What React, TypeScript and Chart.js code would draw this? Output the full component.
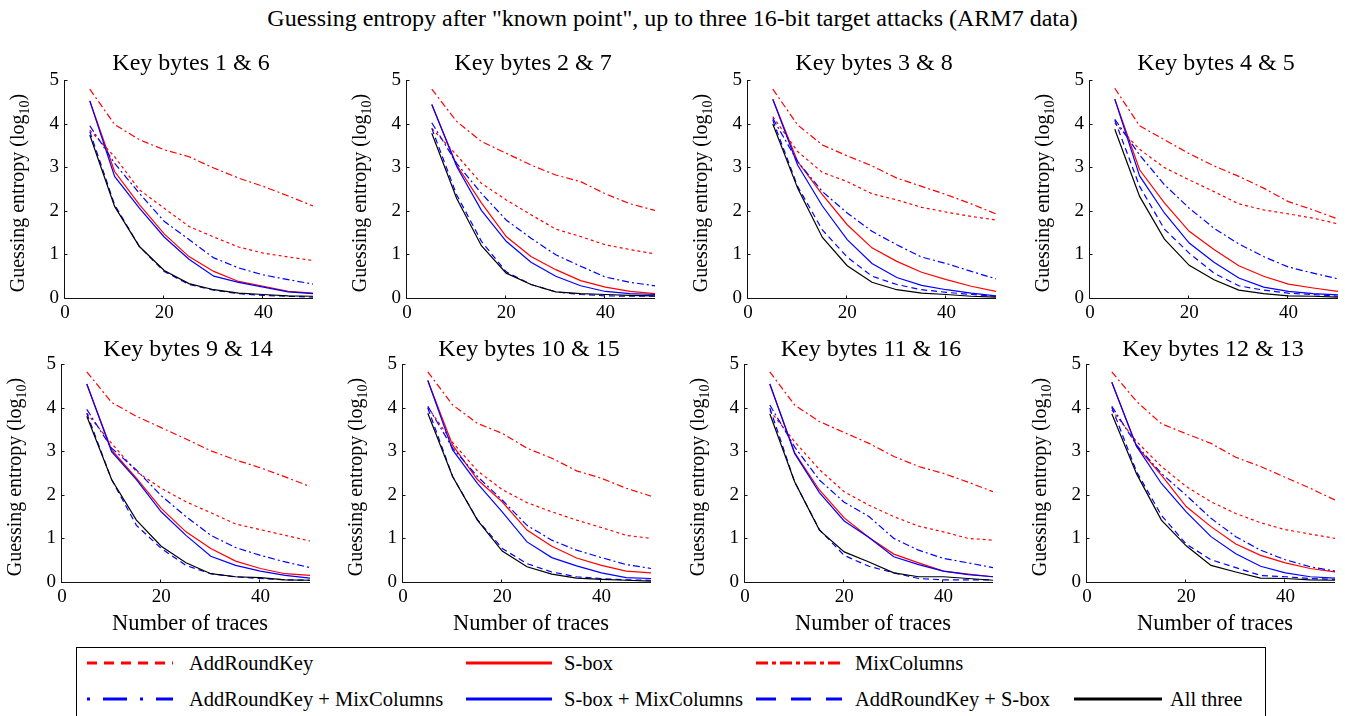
import React, { useEffect, useRef } from 'react';
import { Chart, registerables } from 'chart.js';

Chart.register(...registerables);

// ---------------- DATA ----------------
const TRACES = [5, 10, 15, 20, 25, 30, 35, 40, 45, 50];
const X_TICKS = [0, 20, 40];
const Y_TICKS = [0, 1, 2, 3, 4, 5];
const MAIN_TITLE = 'Guessing entropy after "known point", up to three 16-bit target attacks (ARM7 data)';
const PANEL_TITLES = [
  'Key bytes 1 & 6', 'Key bytes 2 & 7', 'Key bytes 3 & 8', 'Key bytes 4 & 5',
  'Key bytes 9 & 14', 'Key bytes 10 & 15', 'Key bytes 11 & 16', 'Key bytes 12 & 13',
];
const SERIES_NAMES = [
  'AddRoundKey', 'S-box', 'MixColumns',
  'AddRoundKey + MixColumns', 'S-box + MixColumns', 'AddRoundKey + S-box', 'All three',
];
const X_LABEL = 'Number of traces';
const Y_LABEL_MAIN = 'Guessing entropy (log';
const Y_LABEL_SUB = '10';
const Y_LABEL_END = ')';

// one row per panel (8 panels), one value per number of traces
const ADD_ROUND_KEY = [
  [3.85, 3.24, 2.48, 2.06, 1.64, 1.40, 1.17, 1.03, 0.94, 0.86],
  [3.89, 3.28, 2.63, 2.25, 1.91, 1.58, 1.41, 1.22, 1.11, 1.01],
  [4.16, 3.36, 2.88, 2.67, 2.39, 2.25, 2.08, 1.97, 1.87, 1.79],
  [4.01, 3.41, 2.99, 2.71, 2.44, 2.16, 2.02, 1.93, 1.83, 1.70],
  [3.87, 3.18, 2.53, 2.15, 1.84, 1.59, 1.33, 1.20, 1.07, 0.94],
  [4.01, 3.20, 2.55, 2.12, 1.82, 1.61, 1.42, 1.25, 1.07, 1.00],
  [3.93, 3.22, 2.58, 2.07, 1.76, 1.50, 1.28, 1.15, 1.00, 0.96],
  [3.95, 3.22, 2.65, 2.19, 1.84, 1.57, 1.36, 1.20, 1.10, 1.00],
];
const S_BOX = [
  [4.52, 2.90, 2.14, 1.47, 0.95, 0.61, 0.38, 0.27, 0.15, 0.11],
  [4.44, 3.05, 2.18, 1.41, 0.95, 0.65, 0.40, 0.25, 0.15, 0.10],
  [4.56, 3.13, 2.37, 1.68, 1.15, 0.84, 0.59, 0.42, 0.27, 0.15],
  [4.56, 2.94, 2.18, 1.53, 1.11, 0.74, 0.50, 0.32, 0.23, 0.15],
  [4.54, 3.03, 2.38, 1.69, 1.15, 0.77, 0.48, 0.31, 0.19, 0.15],
  [4.62, 3.14, 2.35, 1.84, 1.19, 0.82, 0.55, 0.38, 0.25, 0.21],
  [4.54, 2.97, 2.11, 1.47, 1.02, 0.64, 0.44, 0.25, 0.18, 0.12],
  [4.58, 3.11, 2.45, 1.73, 1.27, 0.87, 0.61, 0.44, 0.31, 0.23],
];
const MIX_COLUMNS = [
  [4.79, 3.98, 3.63, 3.40, 3.24, 2.98, 2.75, 2.56, 2.34, 2.11],
  [4.79, 4.05, 3.59, 3.32, 3.05, 2.82, 2.67, 2.39, 2.16, 2.01],
  [4.79, 3.97, 3.51, 3.26, 3.03, 2.75, 2.56, 2.37, 2.16, 1.93],
  [4.81, 3.95, 3.63, 3.31, 3.03, 2.79, 2.52, 2.21, 2.02, 1.81],
  [4.82, 4.12, 3.80, 3.54, 3.28, 3.01, 2.80, 2.62, 2.41, 2.19],
  [4.82, 4.06, 3.64, 3.41, 3.07, 2.84, 2.55, 2.38, 2.15, 1.97],
  [4.82, 4.06, 3.68, 3.43, 3.18, 2.88, 2.65, 2.49, 2.29, 2.07],
  [4.82, 4.14, 3.63, 3.40, 3.18, 2.86, 2.65, 2.40, 2.15, 1.88],
];
const ARK_MIX_COLUMNS = [
  [3.95, 3.09, 2.40, 1.76, 1.34, 0.92, 0.69, 0.53, 0.42, 0.32],
  [4.02, 3.09, 2.40, 1.79, 1.37, 0.99, 0.73, 0.48, 0.36, 0.28],
  [4.12, 3.13, 2.44, 1.95, 1.53, 1.22, 0.94, 0.79, 0.61, 0.44],
  [4.10, 3.28, 2.60, 2.06, 1.60, 1.24, 0.95, 0.71, 0.57, 0.44],
  [3.96, 3.07, 2.57, 1.98, 1.50, 1.07, 0.79, 0.61, 0.46, 0.33],
  [4.03, 3.07, 2.42, 1.88, 1.30, 0.96, 0.73, 0.56, 0.40, 0.31],
  [4.06, 3.10, 2.34, 1.83, 1.50, 1.00, 0.73, 0.54, 0.44, 0.33],
  [4.03, 3.14, 2.49, 1.99, 1.46, 1.04, 0.73, 0.51, 0.35, 0.25],
];
const S_BOX_MIX_COLUMNS = [
  [4.52, 2.79, 2.06, 1.40, 0.89, 0.50, 0.36, 0.25, 0.14, 0.10],
  [4.44, 3.02, 2.01, 1.30, 0.82, 0.50, 0.28, 0.15, 0.10, 0.08],
  [4.56, 3.05, 2.11, 1.34, 0.79, 0.47, 0.29, 0.19, 0.11, 0.05],
  [4.56, 2.80, 1.95, 1.26, 0.82, 0.46, 0.25, 0.15, 0.10, 0.07],
  [4.54, 2.99, 2.35, 1.61, 1.07, 0.59, 0.38, 0.25, 0.15, 0.09],
  [4.62, 3.03, 2.26, 1.61, 0.92, 0.56, 0.37, 0.21, 0.10, 0.08],
  [4.54, 2.95, 2.05, 1.40, 1.02, 0.58, 0.40, 0.25, 0.17, 0.12],
  [4.58, 3.11, 2.26, 1.61, 1.04, 0.65, 0.36, 0.21, 0.12, 0.09],
];
const ARK_S_BOX = [
  [3.82, 2.14, 1.18, 0.61, 0.31, 0.18, 0.10, 0.06, 0.04, 0.02],
  [3.89, 2.37, 1.30, 0.60, 0.31, 0.14, 0.08, 0.05, 0.04, 0.04],
  [4.08, 2.56, 1.56, 0.94, 0.50, 0.31, 0.19, 0.13, 0.08, 0.04],
  [4.08, 2.56, 1.58, 1.03, 0.57, 0.28, 0.18, 0.11, 0.08, 0.04],
  [3.87, 2.35, 1.30, 0.77, 0.38, 0.19, 0.12, 0.08, 0.05, 0.04],
  [3.99, 2.42, 1.43, 0.77, 0.42, 0.23, 0.12, 0.08, 0.05, 0.04],
  [3.99, 2.30, 1.20, 0.61, 0.36, 0.21, 0.08, 0.05, 0.05, 0.05],
  [4.01, 2.53, 1.53, 0.87, 0.51, 0.33, 0.15, 0.12, 0.08, 0.06],
];
const ALL_THREE = [
  [3.74, 2.10, 1.18, 0.63, 0.33, 0.19, 0.11, 0.08, 0.05, 0.04],
  [3.78, 2.29, 1.20, 0.57, 0.31, 0.14, 0.10, 0.08, 0.06, 0.05],
  [3.99, 2.52, 1.39, 0.74, 0.36, 0.19, 0.11, 0.08, 0.04, 0.02],
  [3.87, 2.33, 1.35, 0.75, 0.42, 0.18, 0.10, 0.05, 0.04, 0.02],
  [3.80, 2.35, 1.42, 0.82, 0.44, 0.19, 0.12, 0.10, 0.05, 0.04],
  [3.87, 2.42, 1.42, 0.71, 0.35, 0.18, 0.09, 0.06, 0.04, 0.02],
  [3.86, 2.30, 1.19, 0.69, 0.46, 0.21, 0.12, 0.12, 0.08, 0.04],
  [3.86, 2.48, 1.42, 0.83, 0.38, 0.23, 0.09, 0.08, 0.05, 0.04],
];

const SERIES_VALUES = [ADD_ROUND_KEY, S_BOX, MIX_COLUMNS, ARK_MIX_COLUMNS, S_BOX_MIX_COLUMNS, ARK_S_BOX, ALL_THREE];

// ---------------- STYLES / LAYOUT ----------------
const SERIF = "'Liberation Serif', 'Times New Roman', serif";
const SERIES_STYLE = [
  { color: '#ff0000', dash: [3, 3], legendDash: '10 7' },
  { color: '#ff0000', dash: [], legendDash: '' },
  { color: '#ff0000', dash: [7, 3, 2, 3], legendDash: '12 4 4 4' },
  { color: '#0000ff', dash: [7, 3, 2, 3], legendDash: '3 13 24 13' },
  { color: '#0000ff', dash: [], legendDash: '' },
  { color: '#0000ff', dash: [6, 4], legendDash: '20 15' },
  { color: '#000000', dash: [], legendDash: '' },
];
const PLOT_W = 248;
const PLOT_H = 218;
const PAD_L = 62;
const PAD_T = 50;
const PAD_R = 14;
const PAD_B = 62;
const PLOT_LEFTS = [65, 407, 748, 1090, 62, 403, 745, 1087];
const PLOT_TOPS = [80, 80, 80, 80, 364, 364, 364, 364];

function makeTextPlugin(idx: number) {
  const bottomRow = idx >= 4;
  return {
    id: 'panelText' + idx,
    afterDraw(chart: any) {
      const ctx = chart.ctx as CanvasRenderingContext2D;
      const a = chart.chartArea;
      const xs = chart.scales.x;
      const ys = chart.scales.y;
      ctx.save();
      // axes
      ctx.strokeStyle = '#111';
      ctx.lineWidth = 1;
      ctx.setLineDash([]);
      const ax = Math.round(a.left) - 0.5;
      const ay = Math.round(a.bottom) + 0.5;
      ctx.beginPath();
      ctx.moveTo(ax, a.top);
      ctx.lineTo(ax, ay);
      ctx.lineTo(a.right, ay);
      ctx.stroke();
      // inward tick marks
      ctx.beginPath();
      Y_TICKS.forEach((v) => {
        const y = Math.round(ys.getPixelForValue(v)) + 0.5;
        ctx.moveTo(ax, y);
        ctx.lineTo(ax + 3, y);
      });
      X_TICKS.forEach((v) => {
        const x = Math.round(xs.getPixelForValue(v)) - 0.5;
        ctx.moveTo(x, ay);
        ctx.lineTo(x, ay - 3);
      });
      ctx.stroke();
      // panel title
      ctx.fillStyle = '#000';
      ctx.font = `24px ${SERIF}`;
      ctx.textAlign = 'center';
      ctx.textBaseline = 'alphabetic';
      const cx = (a.left + a.right) / 2;
      ctx.fillText(PANEL_TITLES[idx], cx + 2, a.top - (bottomRow ? 8 : 10));
      // x label
      if (bottomRow) {
        ctx.font = `22.5px ${SERIF}`;
        ctx.fillText(X_LABEL, cx + 4, a.bottom + 48);
      }
      // y label with subscript
      ctx.translate(a.left - 41, (a.top + a.bottom) / 2 + 4);
      ctx.rotate(-Math.PI / 2);
      ctx.textAlign = 'left';
      ctx.font = `20px ${SERIF}`;
      const w1 = ctx.measureText(Y_LABEL_MAIN).width;
      const w3 = ctx.measureText(Y_LABEL_END).width;
      ctx.font = `14px ${SERIF}`;
      const w2 = ctx.measureText(Y_LABEL_SUB).width;
      const start = -(w1 + w2 + w3) / 2;
      ctx.font = `20px ${SERIF}`;
      ctx.fillText(Y_LABEL_MAIN, start, 0);
      ctx.fillText(Y_LABEL_END, start + w1 + w2, 0);
      ctx.font = `14px ${SERIF}`;
      ctx.fillText(Y_LABEL_SUB, start + w1, 5);
      ctx.restore();
    },
  };
}

function Panel({ idx }: { idx: number }) {
  const ref = useRef<HTMLCanvasElement>(null);
  useEffect(() => {
    const canvas = ref.current;
    if (!canvas) return;
    const chart = new Chart(canvas, {
      type: 'line',
      data: {
        datasets: SERIES_NAMES.map((name, i) => ({
          label: name,
          data: TRACES.map((x, j) => ({ x, y: SERIES_VALUES[i][idx][j] })),
          borderColor: SERIES_STYLE[i].color,
          borderWidth: 1.2,
          borderDash: SERIES_STYLE[i].dash,
          pointRadius: 0,
          fill: false,
          tension: 0,
          order: SERIES_NAMES.length - i,
        })),
      },
      options: {
        responsive: false,
        animation: false,
        devicePixelRatio: 1,
        events: [],
        layout: { padding: { left: 0, top: PAD_T, right: PAD_R, bottom: 0 } },
        plugins: {
          legend: { display: false },
          tooltip: { enabled: false },
          title: { display: false },
        },
        scales: {
          x: {
            type: 'linear',
            min: 0,
            max: 50,
            afterFit: (s: any) => { s.height = PAD_B; },
            grid: { display: false, drawTicks: false },
            border: { display: false },
            ticks: {
              stepSize: 20,
              includeBounds: false,
              padding: 4,
              maxRotation: 0,
              autoSkip: false,
              color: '#000',
              font: { family: SERIF, size: 19 },
            },
          },
          y: {
            type: 'linear',
            min: 0,
            max: 5,
            afterFit: (s: any) => { s.width = PAD_L; },
            grid: { display: false, drawTicks: false },
            border: { display: false },
            ticks: {
              stepSize: 1,
              padding: 6,
              color: '#000',
              font: { family: SERIF, size: 19 },
            },
          },
        },
      } as any,
      plugins: [makeTextPlugin(idx)],
    });
    return () => chart.destroy();
  }, [idx]);
  const w = PAD_L + PLOT_W + PAD_R;
  const h = PAD_T + PLOT_H + PAD_B;
  return (
    <canvas
      ref={ref}
      width={w}
      height={h}
      style={{
        position: 'absolute',
        left: PLOT_LEFTS[idx] - PAD_L,
        top: PLOT_TOPS[idx] - PAD_T,
        width: w,
        height: h,
      }}
    />
  );
}

const LEGEND_SAMPLE_X = [87, 466, 756, 1074];
const LEGEND_TEXT_X = [189, 564, 855, 1170];
const LEGEND_ROW_Y = [663, 699];
const LEGEND_POS = [
  [0, 0], [0, 1], [0, 2],
  [1, 0], [1, 1], [1, 2], [1, 3],
];

function Legend() {
  const boxL = 76;
  const boxT = 647;
  return (
    <div
      style={{
        position: 'absolute',
        left: boxL,
        top: boxT,
        width: 1190,
        height: 90,
        border: '1px solid #000',
        boxSizing: 'border-box',
        background: '#fff',
      }}
    >
      {SERIES_NAMES.map((name, i) => {
        const [row, col] = LEGEND_POS[i];
        const y = LEGEND_ROW_Y[row] - boxT - 1;
        const sx = LEGEND_SAMPLE_X[col] - boxL - 1;
        const tx = LEGEND_TEXT_X[col] - boxL - 1;
        const st = SERIES_STYLE[i];
        return (
          <React.Fragment key={name}>
            <svg
              width={90}
              height={10}
              style={{ position: 'absolute', left: sx, top: y - 5 }}
            >
              <line
                x1={0}
                y1={5}
                x2={col === 3 ? 88 : 86}
                y2={5}
                stroke={st.color}
                strokeWidth={3}
                strokeDasharray={st.legendDash || undefined}
              />
            </svg>
            <span
              style={{
                position: 'absolute',
                left: tx,
                top: y - 12,
                lineHeight: '24px',
                fontSize: 20.5,
                fontFamily: SERIF,
                color: '#000',
                whiteSpace: 'nowrap',
              }}
            >
              {name}
            </span>
          </React.Fragment>
        );
      })}
    </div>
  );
}

export default function App() {
  return (
    <div
      style={{
        position: 'fixed',
        left: 0,
        top: 0,
        width: 1345,
        height: 716,
        overflow: 'hidden',
        background: '#fff',
      }}
    >
      <div
        style={{
          position: 'absolute',
          left: 0,
          top: 4,
          width: 1345,
          textAlign: 'center',
          fontFamily: SERIF,
          fontSize: 24,
          lineHeight: '28px',
          color: '#000',
          whiteSpace: 'nowrap',
        }}
      >
        {MAIN_TITLE}
      </div>
      {PANEL_TITLES.map((t, i) => (
        <Panel key={t} idx={i} />
      ))}
      <Legend />
    </div>
  );
}
